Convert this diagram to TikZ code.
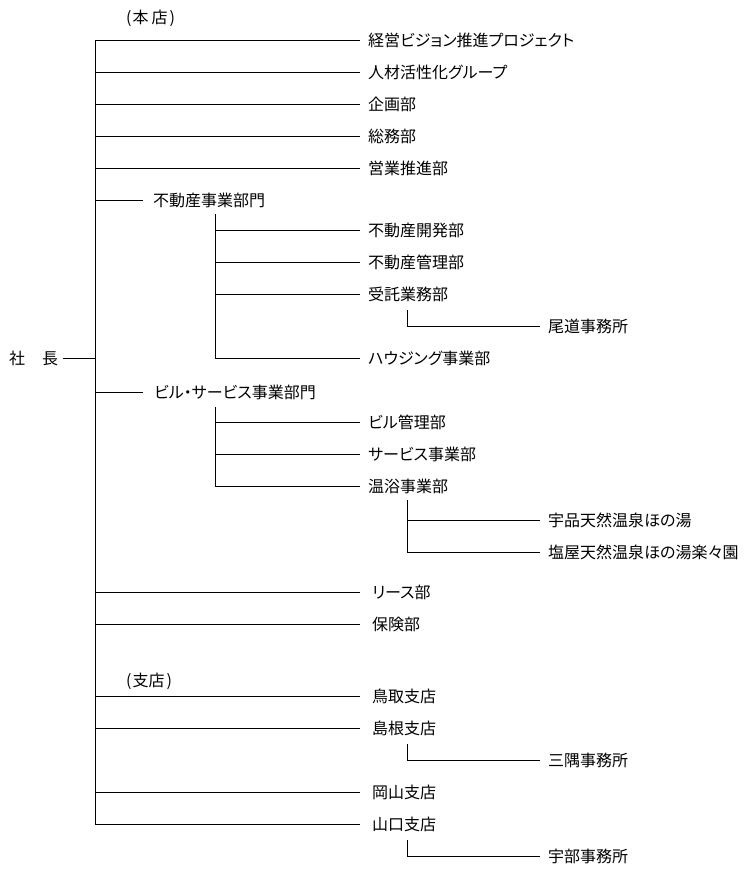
\documentclass[tikz,border=0pt]{standalone}
\usepackage{fontspec}
\newfontfamily\jp[RawFeature=+palt]{Noto Sans CJK JP}
\usetikzlibrary{calc}
\tikzset{
  lbl/.style={inner sep=0pt, anchor=west, font=\jp\fontsize{16}{16}\selectfont, text height=14.1pt, text depth=1.9pt},
  ln/.style={line width=0.9pt, black}
}
\begin{document}
\begin{tikzpicture}[x=1pt,y=-1pt]
\useasboundingbox (0,0) rectangle (744,872);
% headings
\node[lbl] (honten) at (126,17) {(\kern1pt本\kern3pt店\kern2pt)};
\node[lbl] (shiten) at (126,680) {(\kern1pt支店\kern2pt)};
% president
\node[lbl] (pres) at (9,358) {社\hspace{17pt}長};
% head office
\node[lbl] (n1) at (368,40) {経営ビジョン推進プロジェクト};
\node[lbl] (n2) at (368,72) {人材活性化グループ};
\node[lbl] (n3) at (368,104) {企画部};
\node[lbl] (n4) at (368,136) {総務部};
\node[lbl] (n5) at (368,168) {営業推進部};
\node[lbl] (d1) at (153,200) {不動産事業部門};
\node[lbl] (d1a) at (368,230) {不動産開発部};
\node[lbl] (d1b) at (368,262) {不動産管理部};
\node[lbl] (d1c) at (368,294) {受託業務部};
\node[lbl] (o1) at (548,326) {尾道事務所};
\node[lbl] (d1d) at (368,358) {ハウジング事業部};
\node[lbl] (d2) at (154,392) {ビル・サービス事業部門};
\node[lbl] (d2a) at (368,422) {ビル管理部};
\node[lbl] (d2b) at (368,454) {サービス事業部};
\node[lbl] (d2c) at (368,486) {温浴事業部};
\node[lbl] (u1) at (548,520) {宇品天然温泉ほの湯};
\node[lbl] (u2) at (548,552) {塩屋天然温泉ほの湯楽々園};
\node[lbl] (n6) at (372,592) {リース部};
\node[lbl] (n7) at (372,624) {保険部};
% branches
\node[lbl] (b1) at (372,696) {鳥取支店};
\node[lbl] (b2) at (372,728) {島根支店};
\node[lbl] (m1) at (548,760) {三隅事務所};
\node[lbl] (b3) at (372,792) {岡山支店};
\node[lbl] (b4) at (372,824) {山口支店};
\node[lbl] (m2) at (548,856) {宇部事務所};
% helper x positions
\coordinate (T) at (95,0);
\coordinate (E) at (360,0);
\coordinate (S) at (215,0);
\coordinate (Q) at (407,0);
\coordinate (F) at (540,0);
% trunk
\draw[ln] (T|-n1.west) -- (T|-b4.west);
\draw[ln] ($(pres.east)+(5,0)$) -- (T|-pres.east);
\foreach \n in {n1,n2,n3,n4,n5,n6,n7,b1,b2,b3,b4}
  \draw[ln] (T|-\n.west) -- (E|-\n.west);
\draw[ln] (T|-d1.west) -- ($(d1.west)+(-10,0)$);
\draw[ln] (T|-d2.west) -- ($(d2.west)+(-11,0)$);
% real estate division
\draw[ln] ($(S|-d1.west)+(0,14)$) -- (S|-d1d.west) -- (E|-d1d.west);
\foreach \n in {d1a,d1b,d1c}
  \draw[ln] (S|-\n.west) -- (E|-\n.west);
\draw[ln] ($(Q|-d1c.west)+(0,16)$) -- (Q|-o1.west) -- (F|-o1.west);
% building/service division
\draw[ln] ($(S|-d2.west)+(0,15)$) -- (S|-d2c.west) -- (E|-d2c.west);
\foreach \n in {d2a,d2b}
  \draw[ln] (S|-\n.west) -- (E|-\n.west);
\draw[ln] ($(Q|-d2c.west)+(0,14)$) -- (Q|-u2.west) -- (F|-u2.west);
\draw[ln] (Q|-u1.west) -- (F|-u1.west);
% offices
\draw[ln] ($(Q|-b2.west)+(0,16)$) -- (Q|-m1.west) -- (F|-m1.west);
\draw[ln] ($(Q|-b4.west)+(0,16)$) -- (Q|-m2.west) -- (F|-m2.west);
\end{tikzpicture}
\end{document}
